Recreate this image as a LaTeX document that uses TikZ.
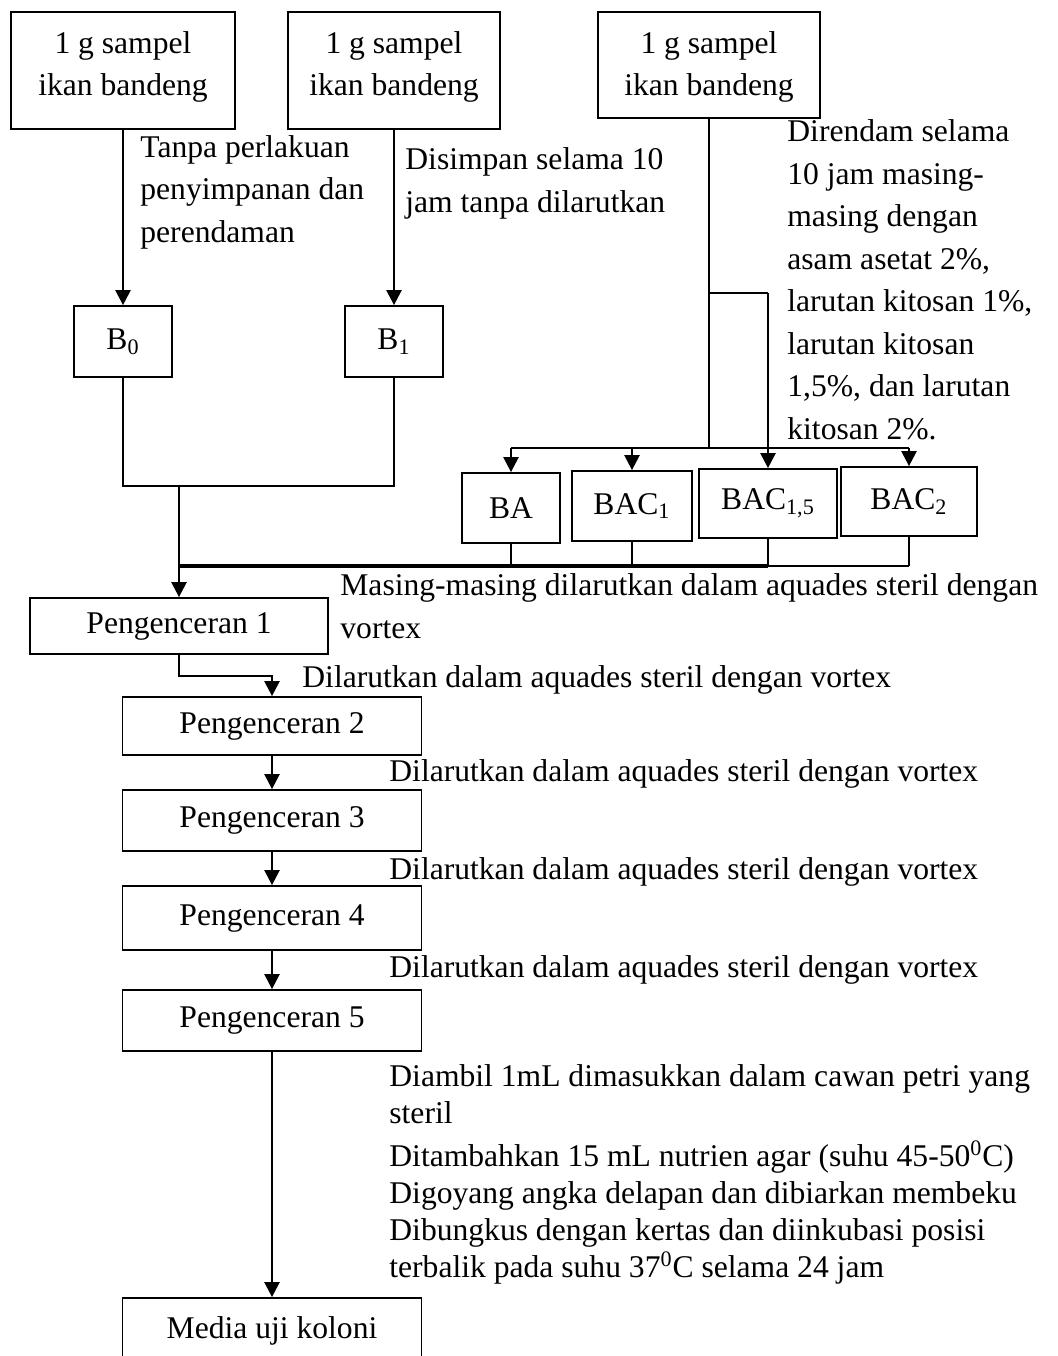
\documentclass[tikz,border=0pt]{standalone}
\usepackage{fontspec}
\setmainfont{Liberation Serif}
\usetikzlibrary{arrows.meta}

\begin{document}
\begin{tikzpicture}[x=0.5pt,y=-0.5pt,
  every node/.style={font=\fontsize{15.8}{21.25}\selectfont, inner sep=0pt},
  box/.style={draw, line width=0.9pt},
  flow/.style={line width=1.2pt},
  arr/.style={flow, -{Triangle[width=7.5pt,length=7.5pt]}},
  note/.style={anchor=base west, align=left},
]
\useasboundingbox (0,0) rectangle (1057,1356);
\clip (0,0) rectangle (1057,1356);

% sample boxes
\node[box, minimum width=112pt, minimum height=58.5pt] (s1) at (123,70.5) {};
\node[align=center] (s1t) at (123,67) {1 g sampel\\ikan bandeng};
\node[box, minimum width=106pt, minimum height=58.5pt] (s2) at (394,70.5) {};
\node[align=center] (s2t) at (394,67) {1 g sampel\\ikan bandeng};
\node[box, minimum width=111pt, minimum height=53pt] (s3) at (709,65) {};
\node[align=center] (s3t) at (709,67) {1 g sampel\\ikan bandeng};

% treatment groups
\node[box, minimum width=49pt, minimum height=35.5pt] (b0) at (123,341.5) {B\textsubscript{0}};
\node[box, minimum width=49pt, minimum height=35.5pt] (b1) at (394,341.5) {B\textsubscript{1}};
\node[box, minimum width=49pt, minimum height=35pt] (ba) at (511,508) {BA};
\node[box, minimum width=60pt, minimum height=35pt] (bac1) at (632,506) {BAC\textsubscript{1}};
\node[box, minimum width=69pt, minimum height=34.5pt] (bac15) at (768,503.5) {BAC\textsubscript{1,5}};
\node[box, minimum width=68pt, minimum height=34.5pt] (bac2) at (909,501.5) {BAC\textsubscript{2}};

% dilution series
\node[box, minimum width=149pt, minimum height=28pt] (p1) at (179,626) {Pengenceran 1};
\node[box, minimum width=149.5pt, minimum height=29pt] (p2) at (272,726) {Pengenceran 2};
\node[box, minimum width=149.5pt, minimum height=30.5pt] (p3) at (272,820.5) {Pengenceran 3};
\node[box, minimum width=149.5pt, minimum height=32pt] (p4) at (272,918) {Pengenceran 4};
\node[box, minimum width=149.5pt, minimum height=30.5pt] (p5) at (272,1020.5) {Pengenceran 5};
\node[box, minimum width=149.5pt, minimum height=33pt] (media) at (272,1331) {Media uji koloni};

% junction points
\coordinate (m1) at (179,486);
\coordinate (j1) at (709,293);
\coordinate (j2) at (768,293);
\coordinate (d1) at (709,448);
\coordinate (h0) at (179,566);
\coordinate (k1) at (272,676);

% B0 and B1 branches
\draw[arr] (s1.south) -- (b0.north);
\draw[arr] (s2.south) -- (b1.north);
\draw[flow] (b0.south) |- (m1) -| (b1.south);
\draw[arr] (m1) -- (p1.north);

% soaking branches
\draw[flow] (s3.south) -- (d1);
\draw[flow] (j1) -- (j2);
\draw[arr] (j2) -- (bac15.north);
\draw[flow] (ba.north |- d1) -- (bac2.north |- d1);
\draw[arr] (ba.north |- d1) -- (ba.north);
\draw[arr] (bac1.north |- d1) -- (bac1.north);
\draw[arr] (bac2.north |- d1) -- (bac2.north);

% collecting line into dilution 1
\draw[flow] (ba.south) -- (ba.south |- h0);
\draw[flow] (bac1.south) -- (bac1.south |- h0);
\draw[flow] (bac15.south) -- (bac15.south |- h0);
\draw[flow] (bac2.south) -- (bac2.south |- h0);
\draw[line width=2.2pt] (h0) -- (ba.south |- h0);
\draw[line width=1.7pt] (ba.south |- h0) -- (bac15.south |- h0);
\draw[flow] (bac15.south |- h0) -- (bac2.south |- h0);

% dilution steps
\draw[arr] (p1.south) |- (k1) -- (p2.north);
\draw[arr] (p2.south) -- (p3.north);
\draw[arr] (p3.south) -- (p4.north);
\draw[arr] (p4.south) -- (p5.north);
\draw[arr] (p5.south) -- (media.north);

% step descriptions (anchored at the baseline of their last line)
\node[note] (t1) at (140,242) {Tanpa perlakuan\\penyimpanan dan\\perendaman};
\node[note] (t2) at (405,212) {Disimpan selama 10\\jam tanpa dilarutkan};
\node[note] (t3) at (787,439) {Direndam selama\\10 jam masing-\\masing dengan\\asam asetat 2\%,\\larutan kitosan 1\%,\\larutan kitosan\\1,5\%, dan larutan\\kitosan 2\%.};
\node[note] (t4) at (340,638) {Masing-masing dilarutkan dalam aquades steril dengan\\vortex};
\node[note] (t5) at (302,687) {Dilarutkan dalam aquades steril dengan vortex};
\node[note] (t6) at (389,781) {Dilarutkan dalam aquades steril dengan vortex};
\node[note] (t7) at (389,879) {Dilarutkan dalam aquades steril dengan vortex};
\node[note] (t8) at (389,977) {Dilarutkan dalam aquades steril dengan vortex};
\node[note, font=\fontsize{15.8}{18.5}\selectfont] (t9) at (389,1277) {Diambil 1mL dimasukkan dalam cawan petri yang\\steril\\[3pt]Ditambahkan 15 mL nutrien agar (suhu 45-50\textsuperscript{0}C)\\Digoyang angka delapan dan dibiarkan membeku\\Dibungkus dengan kertas dan diinkubasi posisi\\terbalik pada suhu 37\textsuperscript{0}C selama 24 jam};
\end{tikzpicture}
\end{document}
